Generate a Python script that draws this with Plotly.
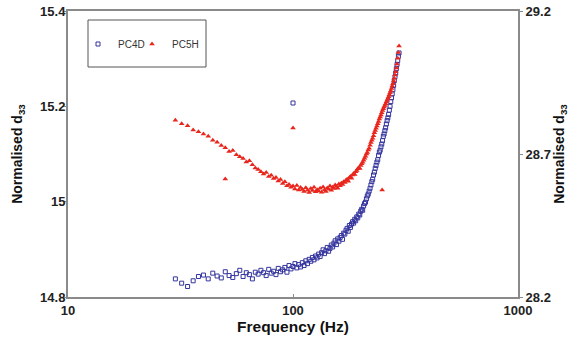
import plotly.graph_objects as go

# Frequency (Hz)
freq = [30, 32, 34, 36, 38, 40, 42, 44, 46, 48,
        50, 52, 54, 56, 58, 60, 62, 64, 66, 68,
        70, 72, 74, 76, 78, 80, 82, 84, 86, 88,
        90, 92, 94, 96, 98, 100, 102, 104, 106, 108,
        110, 112, 114, 116, 118, 120, 122, 124, 126, 128,
        130, 132, 134, 136, 138, 140, 142, 144, 146, 148,
        150, 152, 154, 156, 158, 160, 162, 164, 166, 168,
        170, 172, 174, 176, 178, 180, 182, 184, 186, 188,
        190, 192, 194, 196, 198, 200, 202, 204, 206, 208,
        210, 212, 214, 216, 218, 220, 222, 224, 226, 228,
        230, 232, 234, 236, 238, 240, 242, 244, 246, 248,
        250, 252, 254, 256, 258, 260, 262, 264, 266, 268,
        270, 272, 274, 276, 278, 280, 282, 284, 286, 288,
        290, 292, 294, 296]

# PC4D normalised d33 (left axis)
pc4d = [14.838, 14.829, 14.822, 14.834, 14.843, 14.846, 14.838, 14.850, 14.844, 14.840,
        14.853, 14.845, 14.841, 14.849, 14.856, 14.843, 14.851, 14.847, 14.838, 14.852,
        14.848, 14.856, 14.851, 14.845, 14.858, 14.850, 14.854, 14.847, 14.860, 14.853,
        14.857, 14.862, 14.852, 14.866, 14.859, 14.864, 14.870, 14.861, 14.868, 14.863,
        14.872, 14.866, 14.876, 14.870, 14.879, 14.875, 14.883, 14.878, 14.886, 14.882,
        14.890, 14.885, 14.893, 14.899, 14.891, 14.897, 14.904, 14.896, 14.902, 14.909,
        14.905, 14.913, 14.918, 14.910, 14.922, 14.917, 14.925, 14.929, 14.921, 14.934,
        14.932, 14.940, 14.944, 14.938, 14.950, 14.946, 14.953, 14.958, 14.955, 14.963,
        14.960, 14.968, 14.966, 14.974, 14.972, 14.980, 14.984, 14.982, 14.991, 14.996,
        14.999, 15.006, 15.012, 15.016, 15.022, 15.028, 15.035, 15.042, 15.047, 15.056,
        15.062, 15.070, 15.076, 15.083, 15.088, 15.097, 15.104, 15.108, 15.115, 15.121,
        15.128, 15.137, 15.142, 15.149, 15.155, 15.163, 15.170, 15.176, 15.183, 15.192,
        15.200, 15.210, 15.218, 15.226, 15.235, 15.244, 15.254, 15.262, 15.270, 15.279,
        15.288, 15.296, 15.305, 15.312]

# PC5H normalised d33 (right axis)
pc5h = [28.818, 28.806, 28.799, 28.784, 28.778, 28.770, 28.762, 28.748, 28.741, 28.730,
        28.722, 28.709, 28.712, 28.697, 28.690, 28.684, 28.672, 28.676, 28.662, 28.651,
        28.646, 28.638, 28.630, 28.635, 28.621, 28.626, 28.614, 28.618, 28.606, 28.611,
        28.597, 28.603, 28.589, 28.593, 28.584, 28.588, 28.578, 28.590, 28.574, 28.583,
        28.576, 28.569, 28.582, 28.573, 28.565, 28.579, 28.572, 28.584, 28.568, 28.575,
        28.571, 28.580, 28.566, 28.585, 28.574, 28.569, 28.581, 28.577, 28.588, 28.573,
        28.584, 28.579, 28.592, 28.586, 28.580, 28.595, 28.589, 28.598, 28.593, 28.603,
        28.600, 28.608, 28.612, 28.605, 28.617, 28.621, 28.615, 28.627, 28.632, 28.628,
        28.638, 28.642, 28.648, 28.652, 28.649, 28.660, 28.666, 28.671, 28.678, 28.685,
        28.692, 28.700, 28.705, 28.714, 28.720, 28.731, 28.740, 28.748, 28.755, 28.764,
        28.774, 28.782, 28.790, 28.798, 28.806, 28.814, 28.822, 28.829, 28.836, 28.844,
        28.852, 28.858, 28.864, 28.870, 28.876, 28.882, 28.888, 28.894, 28.900, 28.907,
        28.914, 28.921, 28.929, 28.938, 28.946, 28.955, 28.965, 28.976, 28.988, 29.001,
        29.015, 29.035, 29.055, 29.078]

# Outlying readings
pc4d_out_freq = [100]
pc4d_out_val = [15.207]
pc5h_out_freq = [50, 100, 249]
pc5h_out_val = [28.613, 28.791, 28.574]

x_ticks = [10, 100, 1000]
y_left_ticks = [14.8, 15.0, 15.2, 15.4]
y_left_labels = ["14.8", "15", "15.2", "15.4"]
y_right_ticks = [28.2, 28.7, 29.2]

blue = "#34349e"
red = "#e8261c"
axis_col = "#8a8a8a"
font_family = "Liberation Sans, Arial, sans-serif"

fig = go.Figure()
fig.add_trace(go.Scatter(
    x=freq + pc4d_out_freq, y=pc4d + pc4d_out_val, mode="markers", name="PC4D",
    marker=dict(symbol="square-open", size=4, color=blue, line=dict(width=1, color=blue)),
    yaxis="y", legend="legend"))
fig.add_trace(go.Scatter(
    x=freq + pc5h_out_freq, y=pc5h + pc5h_out_val, mode="markers", name="PC5H",
    marker=dict(symbol="triangle-up", size=5, color=red, line=dict(width=0)),
    yaxis="y2", legend="legend2"))

tickfont = dict(family=font_family, size=13, color="#222", weight="bold")
titlefont = dict(family=font_family, size=14, color="#111", weight="bold")
legfont = dict(family=font_family, size=10, color="#333")
leg_y = (297 - 44) / 286

fig.update_layout(
    width=578, height=344,
    margin=dict(l=68, r=60, t=11, b=47, autoexpand=False),
    paper_bgcolor="white", plot_bgcolor="white",
    showlegend=True,
    legend=dict(x=(78 - 68) / 450, y=leg_y, xanchor="left", yanchor="middle",
                font=legfont, bgcolor="rgba(0,0,0,0)", borderwidth=0),
    legend2=dict(x=(132 - 68) / 450, y=leg_y, xanchor="left", yanchor="middle",
                 font=legfont, bgcolor="rgba(0,0,0,0)", borderwidth=0),
    xaxis=dict(type="log", range=[1, 3], tickvals=x_ticks, ticktext=["10", "100", "1000"],
               automargin=False,
               showline=True, linecolor=axis_col, linewidth=2, mirror=True,
               ticks="inside", ticklen=3, tickcolor=axis_col, tickwidth=1,
               showgrid=False, zeroline=False, tickfont=tickfont,
               title=dict(text="Frequency (Hz)", font=dict(family=font_family, size=15.5, color="#111", weight="bold"), standoff=2)),
    yaxis=dict(range=[14.8, 15.4], tickvals=y_left_ticks, ticktext=y_left_labels,
               automargin=False,
               showline=True, linecolor=axis_col, linewidth=2,
               ticks="outside", ticklen=3, tickcolor=axis_col, tickwidth=1,
               ticklabelstandoff=-5,
               showgrid=False, zeroline=False, tickfont=tickfont,
               title=dict(text="Normalised d<sub>33</sub>", font=titlefont, standoff=14)),
    yaxis2=dict(range=[28.2, 29.2], tickvals=y_right_ticks, ticktext=["28.2", "28.7", "29.2"],
                overlaying="y", side="right", automargin=False,
                showline=True, linecolor=axis_col, linewidth=2,
                ticks="outside", ticklen=3, tickcolor=axis_col, tickwidth=1,
                showgrid=False, zeroline=False, tickfont=tickfont,
                title=dict(text="Normalised d<sub>33</sub>", font=titlefont, standoff=4)),
    shapes=[dict(type="rect", xref="paper", yref="paper",
                 x0=(88 - 68) / 450, x1=(206 - 68) / 450,
                 y0=(297 - 67) / 286, y1=(297 - 20) / 286,
                 line=dict(color="#555", width=1), fillcolor="rgba(0,0,0,0)")],
)

fig.write_html("out.html", config={"displayModeBar": False},
               post_script="document.body.style.margin='0';document.body.style.padding='0';")
